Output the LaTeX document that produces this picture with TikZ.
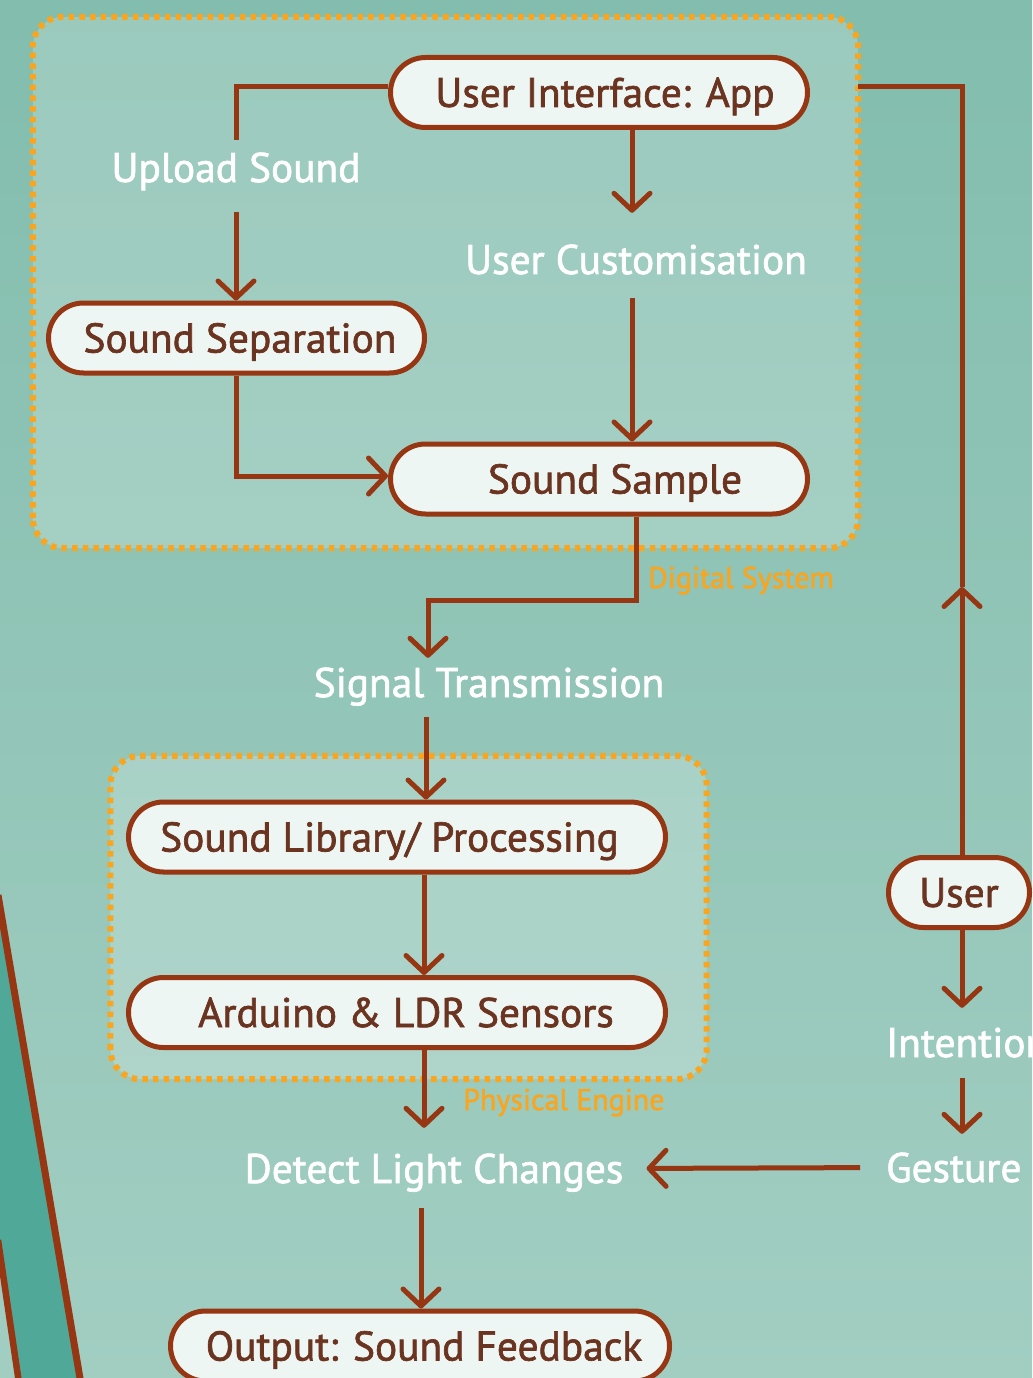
\documentclass[tikz,border=0pt]{standalone}
\usepackage{fontspec}
\setmainfont{PT Sans}[FakeBold=1.6]
\usetikzlibrary{arrows.meta,calc}
\definecolor{bgtop}{HTML}{82BDAD}
\definecolor{bgbot}{HTML}{A2CEC2}
\definecolor{stripc}{HTML}{4FA898}
\definecolor{brn}{HTML}{963612}
\definecolor{pilltext}{HTML}{6B3421}
\definecolor{pillfill}{HTML}{EEF6F3}
\definecolor{orng}{HTML}{F9A51F}
\newcommand\bigtxt{\fontsize{41.4bp}{48bp}\selectfont}
\newcommand\smalltxt{\fontsize{30bp}{36bp}\selectfont}
\tikzset{
  pill/.style={draw=brn, line width=5bp, fill=pillfill, rounded corners=35bp,
    minimum height=70bp, text=pilltext, font=\bigtxt, inner sep=0pt,
    text height=29bp, text depth=0pt},
  lbl/.style={text=white, font=\bigtxt, inner sep=0pt, text height=29bp,
    text depth=0pt, anchor=base},
  grpfill/.style={draw=none, rounded corners=30bp, fill=white, fill opacity=0.2},
  grpline/.style={draw=orng, line width=6bp, dash pattern=on 5.5bp off 5.2bp,
    rounded corners=30bp},
  grplbl/.style={text=orng, font=\smalltxt, anchor=base west, inner sep=0pt},
  conn/.style={draw=brn, line width=5bp},
  arr/.style={conn, -{Straight Barb[round,length=17bp,width=36bp]}},
}
\begin{document}
\begin{tikzpicture}[x=1bp,y=-1bp]
\useasboundingbox (0,0) rectangle (1032,1378);
\clip (0,0) rectangle (1032,1378);
% background
\fill[top color=bgtop, bottom color=bgbot] (0,0) rectangle (1032,1378);
\fill[stripc] (-2,895) -- (82,1390) -- (20,1390) -- (-2,1240) -- cycle;
\draw[brn, line width=7bp] (-2,895) -- (82,1390);
\draw[brn, line width=6.5bp] (-2,1240) -- (20,1390);

% groups
\node[grpfill, minimum width=825bp, minimum height=531bp] (digital) at (445.5,282.5) {};
\node[grpfill, minimum width=596bp, minimum height=323bp] (physical) at (408.5,917.5) {};
\draw[grpline] (digital.south west) rectangle (digital.north east);
\draw[grpline] (physical.south west) rectangle (physical.north east);
\node[grplbl] (diglbl) at (648,588) {Digital System};
\node[grplbl] (phylbl) at (463,1110) {Physical Engine};

% pills
\node[pill, minimum width=417bp] (ui) at (599,92.5) {\hspace*{12bp}User Interface: App};
\node[pill, minimum width=376bp] (sep) at (236.5,338) {\hspace*{7bp}Sound Separation};
\node[pill, minimum width=417bp] (sample) at (599,479) {\hspace*{32bp}Sound Sample};
\node[pill, minimum width=537bp] (lib) at (397,837) {\hspace*{-15bp}Sound Library/ Processing};
\node[pill, minimum width=537bp] (ard) at (397,1012.5) {\hspace*{18bp}Arduino \& LDR Sensors};
\node[pill, minimum width=499bp] (out) at (420,1346) {\hspace*{8bp}Output: Sound Feedback};
\node[pill, minimum width=141bp] (user) at (959,892.5) {User};

% white labels
\node[lbl] (upload) at (236,182) {Upload Sound};
\node[lbl] (custom) at (636,274) {User Customisation};
\node[lbl] (signal) at (489,697) {Signal Transmission};
\node[lbl] (detect) at (434,1183) {Detect Light Changes};
\node[lbl, anchor=base west] (intention) at (886,1057) {Intention};
\node[lbl, anchor=base west] (gesture) at (886,1182) {Gesture};

% helper coordinates
\coordinate (y87) at (0,87);
\coordinate (x632) at (632,0);
\coordinate (x636) at (636,0);
\coordinate (x426) at (426,0);
\coordinate (x424) at (424,0);
\coordinate (x421) at (421,0);
\coordinate (x962) at (962,0);
\coordinate (t1) at (428,600);
\coordinate (mid) at (962,587);

% connectors
\draw[conn] (ui.west |- y87) -| ([yshift=13bp]upload.north);
\draw[arr, shorten <=30bp] (upload.south) -- (upload.south |- sep.north);
\draw[arr, shorten >=32bp] (ui.south -| x632) -- (custom.north -| x632);
\draw[arr, shorten <=24bp] (custom.south -| x632) -- (sample.north -| x632);
\draw[arr] (sep.south) |- ([yshift=3bp]sample.west);
\draw[arr, shorten >=10bp] (sample.south -| x636) |- (t1) -- (signal.north -| t1);
\draw[arr, shorten <=20bp] (signal.south -| x426) -- (lib.north -| x426);
\draw[arr] (lib.south -| x424) -- (ard.north -| x424);
\draw[arr, shorten >=26bp] (ard.south -| x424) -- (detect.north -| x424);
\draw[arr, shorten <=25bp] (detect.south -| x421) -- (out.north -| x421);
\draw[arr] (user.north -| mid) -- (mid);
\draw[conn] (mid) |- (digital.east |- y87);
\draw[arr, shorten >=20bp] (user.south -| x962) -- (intention.north -| x962);
\draw[arr, shorten <=21bp, shorten >=19bp] (intention.south -| x962) -- (gesture.north -| x962);
\draw[arr, shorten <=26bp, shorten >=23bp] (gesture.west) -- (detect.east);
\end{tikzpicture}
\end{document}
